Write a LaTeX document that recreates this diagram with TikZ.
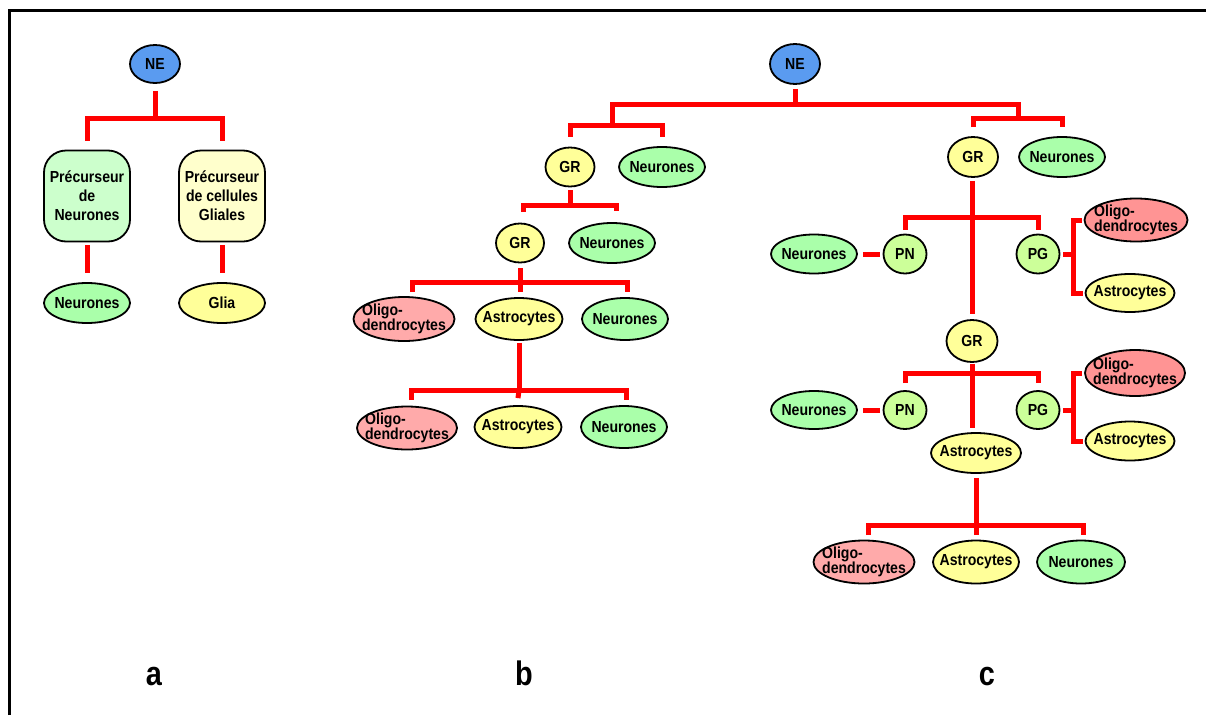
\documentclass[tikz,border=0pt]{standalone}
\usepackage{fontspec}
\usetikzlibrary{shapes.geometric}
\newfontfamily\cfont[FakeStretch=0.88]{Liberation Sans}
\newfontfamily\lfont[FakeStretch=0.85]{Liberation Sans}
\newcommand\dtxt{\cfont\bfseries\fontsize{16}{15.5}\selectfont}
\newcommand\ptxt{\cfont\bfseries\fontsize{16}{19}\selectfont}
\definecolor{neblue}{HTML}{5A9BF0}
\definecolor{grn}{HTML}{AAFFAA}
\definecolor{ylw}{HTML}{FFFF99}
\definecolor{pgrn}{HTML}{CCFFCC}
\definecolor{pylw}{HTML}{FFFFCC}
\definecolor{pink}{HTML}{FFAAAA}
\definecolor{salm}{HTML}{FF9494}
\definecolor{lime}{HTML}{CCFF99}
\begin{document}
\begin{tikzpicture}[x=1pt,y=-1pt,
  el/.style 2 args={ellipse,draw=black,line width=1.8pt,minimum width=#1,minimum height=#2,inner sep=0pt},
  lab/.style={label={[align=left,font=\dtxt,inner sep=0pt,text=black]center:#1}},
  pbox/.style={rectangle,rounded corners=22pt,draw=black,line width=1.8pt,minimum width=86,minimum height=91,inner sep=0pt,align=center,font=\ptxt},
  conn/.style={draw=red,line width=5pt},
  letter/.style={font=\lfont\bfseries\fontsize{34}{34}\selectfont,anchor=base}]
\useasboundingbox (0,0) rectangle (1206,715);
\fill[white] (0,0) rectangle (1206,715);
\draw[line width=3pt] (9.5,715) -- (9.5,10.5) -- (1206,10.5);

% ---------- panel a ----------
\node[el={50}{38},fill=neblue,lab=NE] (aNE) at (155,64) {};
\node[pbox,fill=pgrn] (aPN) at (87,196) {Précurseur\\de\\Neurones};
\node[pbox,fill=pylw] (aPG) at (222,196) {Précurseur\\de cellules\\Gliales};
\node[el={86}{40},fill=grn,lab=Neurones] (aN) at (87,303) {};
\node[el={86}{40},fill=ylw,lab=Glia] (aG) at (222,303) {};
\coordinate (aj) at (155,118);
\draw[conn] ([yshift=-7pt]aNE.south) -- (aj);
\draw[conn] ([yshift=9pt]aPN.north) |- (aj) -| ([yshift=9pt]aPG.north);
\draw[conn] ([yshift=-3pt]aPN.south) -- ([yshift=9pt]aN.north);
\draw[conn] ([yshift=-3pt]aPG.south) -- ([yshift=9pt]aG.north);

% ---------- panel b ----------
\node[el={50}{40},fill=neblue,lab=NE] (bNE) at (795,64) {};
\node[el={49}{39},fill=ylw,lab=GR] (bGR1) at (570,167) {};
\node[el={86}{40},fill=grn,lab=Neurones] (bN1) at (662,167) {};
\node[el={48}{39},fill=ylw,lab=GR] (bGR2) at (520,243) {};
\node[el={86}{40},fill=grn,lab=Neurones] (bN2) at (612,243) {};
\node[el={101}{44},fill=pink,lab={Oligo-\\dendrocytes}] (bO1) at (404,319) {};
\node[el={87}{42},fill=ylw,lab=Astrocytes] (bA1) at (519,319) {};
\node[el={86}{42},fill=grn,lab=Neurones] (bN3) at (625,319) {};
\node[el={100}{43},fill=pink,lab={Oligo-\\dendrocytes}] (bO2) at (407,428) {};
\node[el={87}{42},fill=ylw,lab=Astrocytes] (bA2) at (518,427) {};
\node[el={86}{42},fill=grn,lab=Neurones] (bN4) at (624,427) {};

\coordinate (bj0) at (795,104);
\coordinate (bjL) at (612,125);
\coordinate (bjR) at (1018,118);
\draw[conn] ([yshift=-4pt]bNE.south) -- (bj0);
\draw[conn] (bjL) |- (bj0) -| (bjR);
\draw[conn] ([yshift=10pt]bGR1.north) |- (bjL) -| ([yshift=9pt]bN1.north);

\coordinate (bj1) at (570,205);
\draw[conn] ([yshift=-3pt]bGR1.south) -- (bj1);
\draw[conn] ([yshift=11pt]bGR2.north -| 523,0) |- (bj1) -| ([yshift=11pt]bN2.north -| 616,0);

\coordinate (bj2) at (520,282);
\draw[conn] ([yshift=-5pt]bGR2.south) -- (bj2);
\draw[conn] (412,292) |- (bj2) -| (627,292);
\draw[conn] (bj2) -- (520,292);

\coordinate (bj3) at (519,390);
\draw[conn] ([yshift=-2pt]bA1.south) -- (bj3);
\draw[conn] (411,400) |- (bj3) -| (626,400);
\draw[conn] (bj3) -- ([yshift=7pt]bA2.north);

% ---------- panel c ----------
\node[el={50}{40},fill=ylw,lab=GR] (cGR1) at (973,157) {};
\node[el={86}{40},fill=grn,lab=Neurones] (cN1) at (1062,157) {};
\draw[conn] ([yshift=9pt]cGR1.north) |- (bjR) -| ([yshift=9pt]cN1.north);

\node[el={86}{39},fill=grn,lab=Neurones] (cNe1) at (814,254) {};
\node[el={43}{39},fill=lime,lab=PN] (cPN1) at (905,254) {};
\node[el={43}{39},fill=lime,lab=PG] (cPG1) at (1038,254) {};
\node[el={103}{43},fill=salm,lab={Oligo-\\dendrocytes}] (cO1) at (1136,220) {};
\node[el={89}{38},fill=ylw,lab=Astrocytes] (cA1) at (1130,293) {};
\node[el={51}{42},fill=ylw,lab=GR] (cGR2) at (972,341) {};

\coordinate (cj1) at (972,217);
\draw[conn] ([yshift=-3pt]cGR1.south -| cGR2) -- ([yshift=5pt]cGR2.north);
\draw[conn] ([yshift=4pt]cPN1.north) |- (cj1) -| ([yshift=4pt]cPG1.north);
\draw[conn,shorten <=5pt,shorten >=3pt] (cNe1) -- (cPN1);
\coordinate (cb1) at (1073,254);
\draw[conn] ([xshift=3pt]cPG1.east) -- (cb1);
\draw[conn] ([xshift=-2pt]cO1.west) -| (cb1) |- ([xshift=-2pt]cA1.west);

\node[el={86}{38},fill=grn,lab=Neurones] (cNe2) at (814,410) {};
\node[el={43}{38},fill=lime,lab=PN] (cPN2) at (905,410) {};
\node[el={43}{38},fill=lime,lab=PG] (cPG2) at (1038,410) {};
\node[el={100}{46},fill=salm,lab={Oligo-\\dendrocytes}] (cO2) at (1135,373) {};
\node[el={89}{39},fill=ylw,lab=Astrocytes] (cA2) at (1130,441) {};
\node[el={90}{40},fill=ylw,lab=Astrocytes] (cA) at (976,453) {};

\coordinate (cj2) at (972,373);
\draw[conn] ([yshift=-1pt]cGR2.south) -- ([yshift=4pt]cA.north -| cGR2);
\draw[conn] ([yshift=7pt]cPN2.north) |- (cj2) -| ([yshift=7pt]cPG2.north);
\draw[conn,shorten <=5pt,shorten >=3pt] (cNe2) -- (cPN2);
\coordinate (cb2) at (1073,410);
\draw[conn] ([xshift=3pt]cPG2.east) -- (cb2);
\draw[conn] ([xshift=-2pt]cO2.west) -| (cb2) |- ([xshift=-2pt]cA2.west);

\node[el={101}{43},fill=pink,lab={Oligo-\\dendrocytes}] (cO3) at (864,562) {};
\node[el={86}{43},fill=ylw,lab=Astrocytes] (cA3) at (976,562) {};
\node[el={88}{43},fill=grn,lab=Neurones] (cN3) at (1081,562) {};
\coordinate (cj3) at (976,525);
\draw[conn] ([yshift=-4pt]cA.south) -- (cj3);
\draw[conn] (868,535) |- (cj3) -| (1083,535);
\draw[conn] (cj3) -- ([yshift=5pt]cA3.north);

% ---------- letters ----------
\node[letter] (la) at (154,685) {a};
\node[letter] (lb) at (524,685) {b};
\node[letter] (lc) at (987,685) {c};
\end{tikzpicture}
\end{document}
